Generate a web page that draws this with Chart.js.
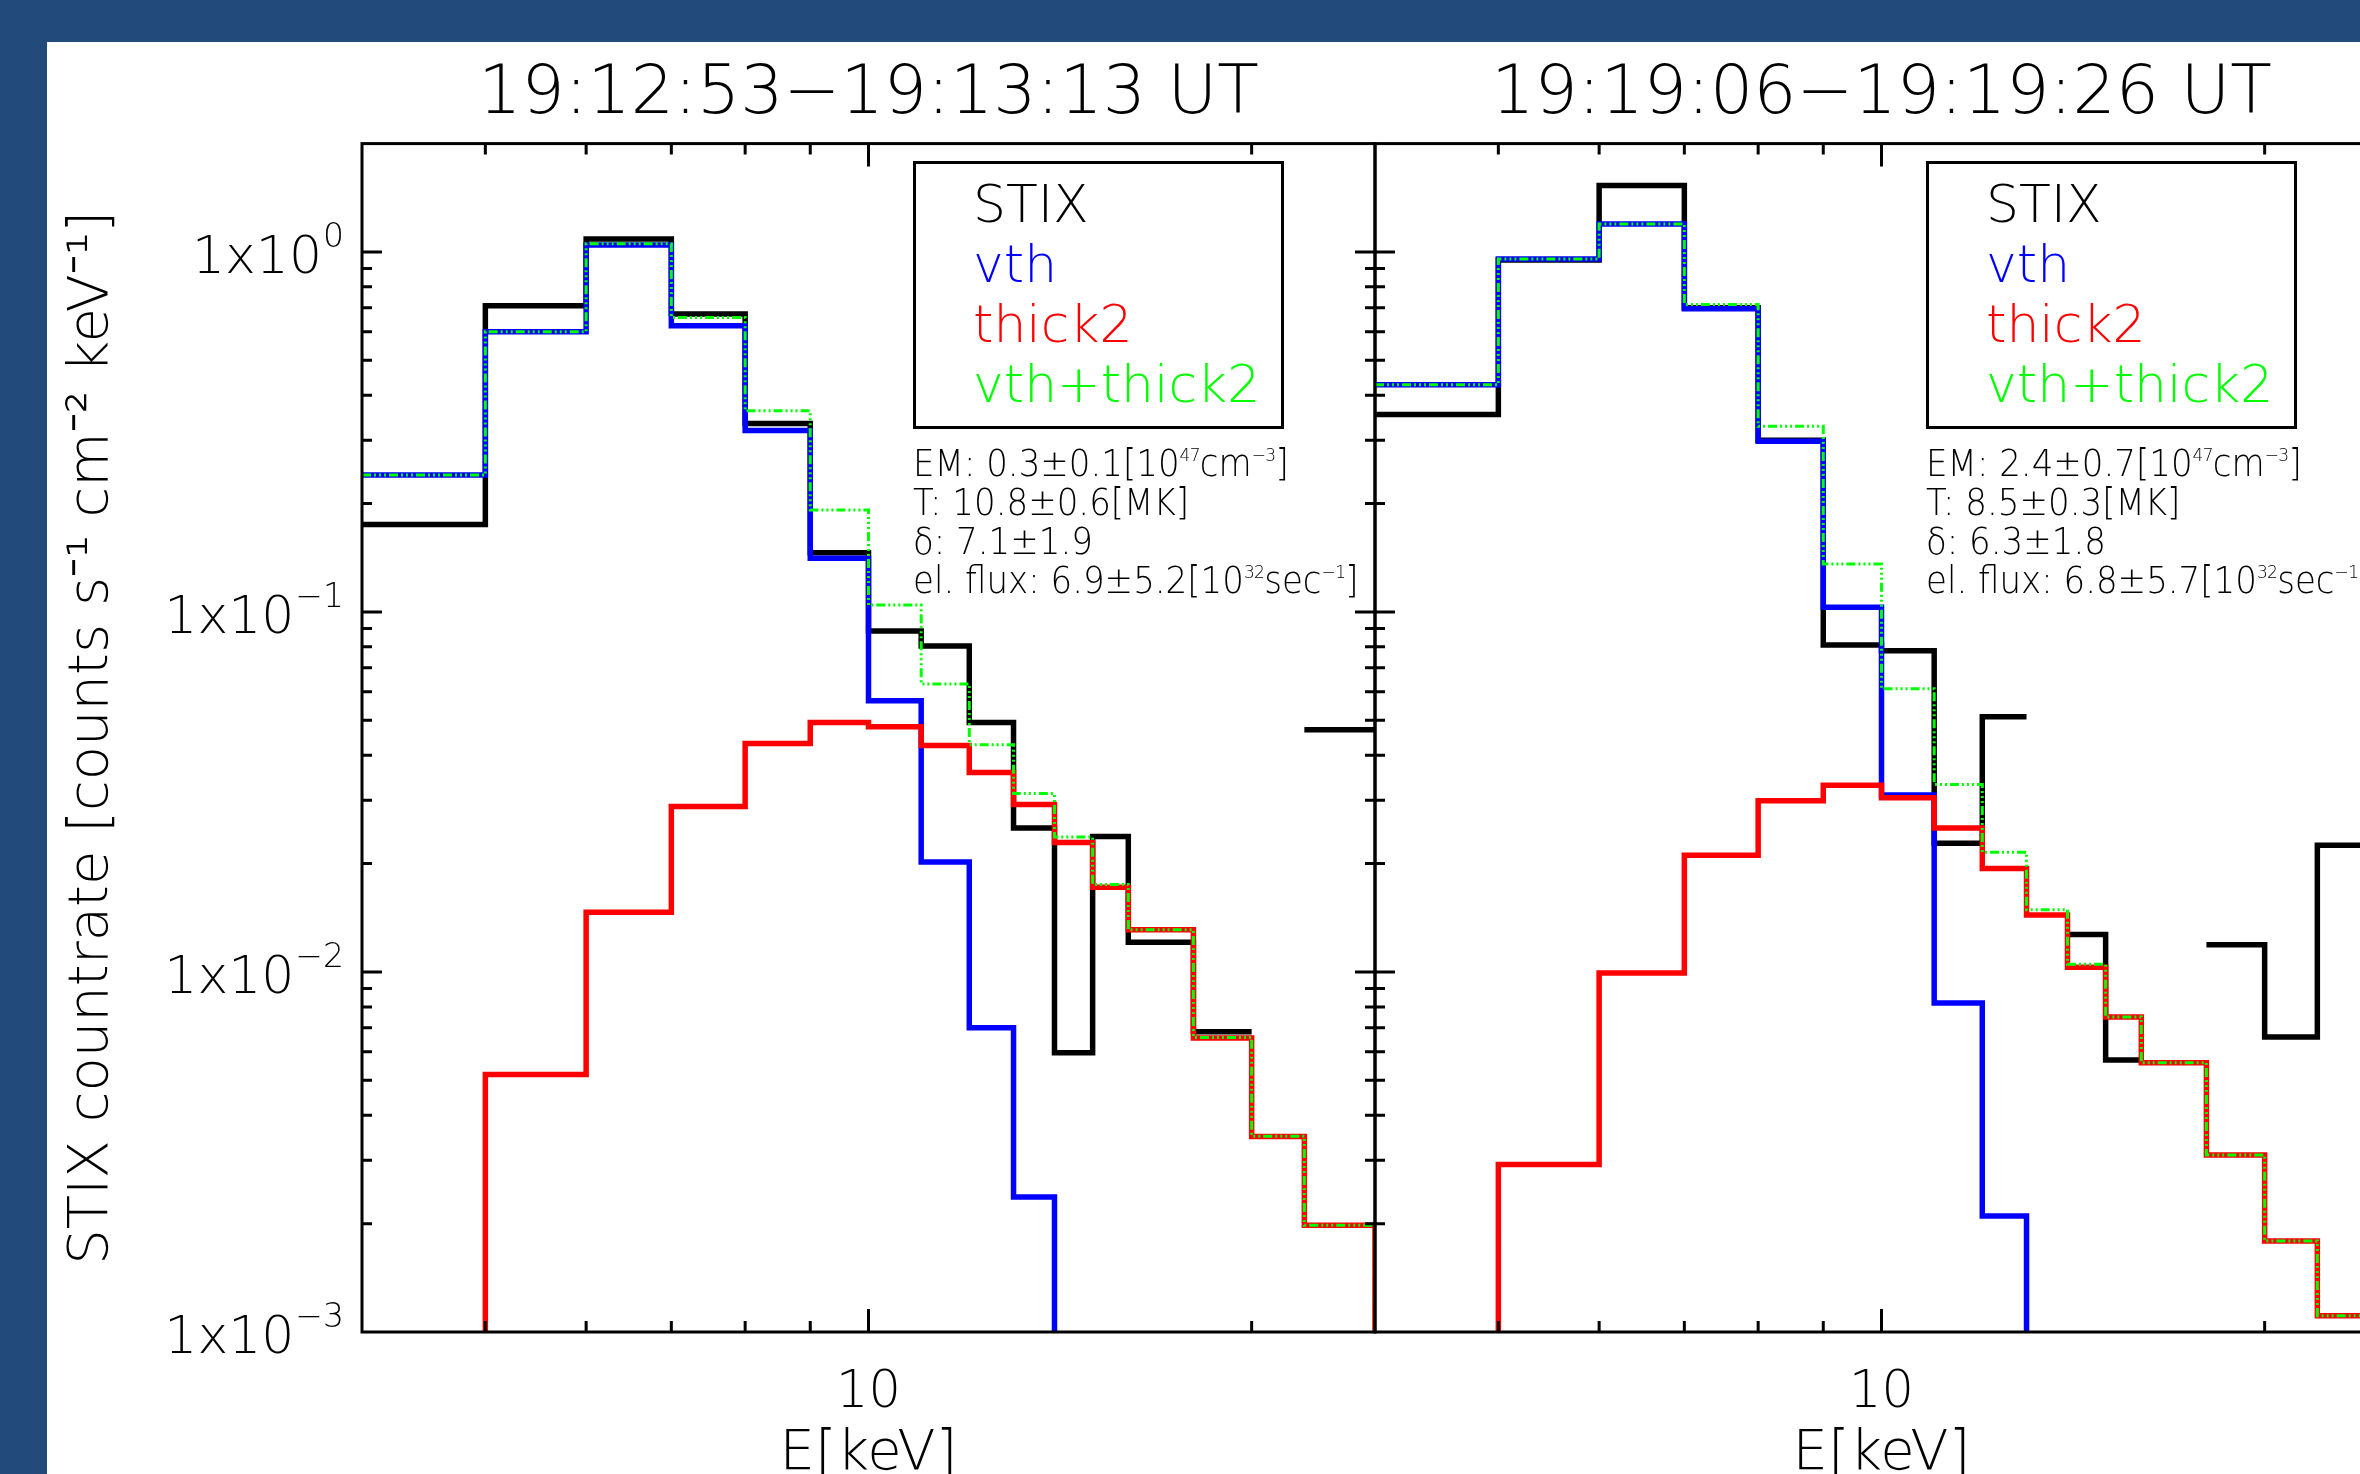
<!DOCTYPE html>
<html>
<head>
<meta charset="utf-8">
<title>STIX count spectra</title>
<script src="https://cdn.jsdelivr.net/npm/chart.js@4.4.1/dist/chart.umd.min.js"></script>
<style>
  html, body { margin:0; padding:0; }
  body { width:2360px; height:1474px; overflow:hidden; position:relative; background:#224a7a; font-family:'DejaVu Sans', sans-serif; font-weight:200; color:#000; }
  #paper { position:absolute; left:47px; top:42px; width:2313px; height:1432px; background:#ffffff; }
  canvas { position:absolute; top:0; }
  #c1 { left:0; }
  #c2 { left:1345px; }
  .lgbox { position:absolute; top:161px; width:371px; height:268px; border:3px solid #000; box-sizing:border-box; }
  .lgtext { position:absolute; top:174px; font-size:52px; line-height:60px; white-space:nowrap; }
  .params { position:absolute; top:444px; font-size:37px; line-height:39px; white-space:nowrap; transform:scaleX(0.92); transform-origin:0 0; }
  .params sup { font-size:0.5em; vertical-align:0.8em; line-height:0; letter-spacing:-0.04em; }
</style>
</head>
<body>
<div id="paper"></div>
<canvas id="c1" width="1400" height="1520"></canvas>
<canvas id="c2" width="1068" height="1520"></canvas>
<div id="overlay"></div>
<script>
// ---------------- data ----------------
const energyEdges = [4, 5, 6, 7, 8, 9, 10, 11, 12, 13, 14, 15, 16, 18, 20, 22, 25, 28]; // keV bin edges

const panelTitles = ['19:12:53\u221219:13:13 UT', '19:19:06\u221219:19:26 UT'];
const seriesNames = ['STIX', 'vth', 'thick2', 'vth+thick2'];

// Panel 1 : 19:12:53-19:13:13 UT   (counts s^-1 cm^-2 keV^-1 per bin; null = not plotted)
const stixA  = [0.175, 0.709, 1.086, 0.673, 0.334, 0.146, 0.0886, 0.0805, 0.0493, 0.0251, 0.00597, 0.0238, 0.0121, 0.00682, null, 0.0471, null];
const vthA   = [0.240, 0.600, 1.046, 0.624, 0.319, 0.141, 0.0567, 0.0202, 0.0070, 0.00237, 0.0007, 0.0002, 0.00006, 0.000015, 0.000003, 0.0000006, 0.0000001];
const thickA = [0.0004, 0.00519, 0.01466, 0.0288, 0.0431, 0.0493, 0.0480, 0.0426, 0.0358, 0.0292, 0.0229, 0.0172, 0.0131, 0.00656, 0.00349, 0.00198, 0.0001];
const sumA   = [0.240, 0.600, 1.054, 0.658, 0.362, 0.192, 0.1045, 0.0631, 0.0428, 0.0313, 0.0237, 0.0175, 0.0131, 0.00658, 0.0035, 0.00198, 0.0001];

// Panel 2 : 19:19:06-19:19:26 UT
const stixB  = [0.3535, 0.95, 1.53, 0.70, 0.30, 0.081, 0.078, 0.0228, 0.0512, null, 0.0127, 0.0057, null, 0.0119, 0.0066, 0.0225, null];
const vthB   = [0.428, 0.956, 1.196, 0.695, 0.298, 0.103, 0.031, 0.0082, 0.0021, 0.0006, 0.00015, 0.00004, 0.00001, 0.000002, 0.0000004, 0.0000001, 0.00000002];
const thickB = [0.0005, 0.00292, 0.00993, 0.0211, 0.0299, 0.0330, 0.0305, 0.0251, 0.0194, 0.0144, 0.0103, 0.0075, 0.0056, 0.0031, 0.00179, 0.00111, 0.0001];
const sumB   = [0.428, 0.956, 1.196, 0.715, 0.328, 0.136, 0.0612, 0.0332, 0.0215, 0.0149, 0.0105, 0.0075, 0.0056, 0.0031, 0.00179, 0.00111, 0.0001];

// axis ticks
const xTickValues = [10];
const xTickLabels = ['10'];
const yTickValues = [0.001, 0.01, 0.1, 1];
const yTickBase = ['1x10', '1x10', '1x10', '1x10'];
const yTickExp = ['\u22123', '\u22122', '\u22121', '0'];

// fit parameter text
const paramsA = ['EM: 0.3\u00B10.1[10<sup>47</sup>cm<sup>\u22123</sup>]', 'T: 10.8\u00B10.6[MK]', '\u03B4: 7.1\u00B11.9', 'el. flux: 6.9\u00B15.2[10<sup>32</sup>sec<sup>\u22121</sup>]'];
const paramsB = ['EM: 2.4\u00B10.7[10<sup>47</sup>cm<sup>\u22123</sup>]', 'T: 8.5\u00B10.3[MK]', '\u03B4: 6.3\u00B11.8', 'el. flux: 6.8\u00B15.7[10<sup>32</sup>sec<sup>\u22121</sup>]'];

// ---------------- styling ----------------
const FONT = "'DejaVu Sans', sans-serif";
const FW = '200';
const seriesColors = ['#000000', '#0000ff', '#ff0000', '#00ff00'];
const seriesWidths = [5.5, 5.5, 5.5, 3];
const seriesDash = [[], [], [], [9, 3, 2, 3, 2, 3, 2, 3]];

Chart.defaults.animation = false;
Chart.defaults.font.family = FONT;
Chart.defaults.color = '#000';

function histPoints(edges, vals) {
  const pts = [];
  for (let i = 0; i < vals.length; i++) {
    pts.push({ x: edges[i], y: vals[i] });
    pts.push({ x: edges[i + 1], y: vals[i] });
  }
  return pts;
}

// frame, inward major/minor ticks and y tick labels with raised exponents
const frameTicks = {
  id: 'frameTicks',
  afterDatasetsDraw(chart, args, opts) {
    const { ctx, chartArea: a, scales: { x, y } } = chart;
    ctx.save();
    ctx.strokeStyle = '#000';
    ctx.lineWidth = 3;
    ctx.lineCap = 'butt';
    ctx.strokeRect(a.left, a.top, a.right - a.left, a.bottom - a.top);
    ctx.beginPath();
    for (let e = -4; e <= 2; e++) {
      for (let m = 1; m < 10; m++) {
        const v = m * Math.pow(10, e);
        if (v > x.min * 1.0001 && v < x.max * 0.9999) {
          const px = x.getPixelForValue(v);
          const L = m === 1 ? 23 : 11;
          ctx.moveTo(px, a.bottom); ctx.lineTo(px, a.bottom - L);
          ctx.moveTo(px, a.top); ctx.lineTo(px, a.top + L);
        }
        if (v > y.min * 1.0001 && v < y.max * 0.9999) {
          const py = y.getPixelForValue(v);
          const L = m === 1 ? 20 : 10;
          ctx.moveTo(a.left, py); ctx.lineTo(a.left + L, py);
          ctx.moveTo(a.right, py); ctx.lineTo(a.right - L, py);
        }
      }
    }
    ctx.stroke();
    if (opts.yLabels) {
      ctx.fillStyle = '#000';
      ctx.textBaseline = 'alphabetic';
      ctx.textAlign = 'left';
      yTickValues.forEach((v, i) => {
        const py = y.getPixelForValue(v);
        ctx.font = FW + ' 52px ' + FONT;
        const wb = ctx.measureText(yTickBase[i]).width;
        ctx.font = FW + ' 33px ' + FONT;
        const ws = ctx.measureText(yTickExp[i]).width;
        const x0 = a.left - 18 - ws - wb - 1;
        ctx.font = FW + ' 52px ' + FONT;
        ctx.fillText(yTickBase[i], x0, py + 21);
        ctx.font = FW + ' 33px ' + FONT;
        ctx.fillText(yTickExp[i], x0 + wb + 1, py - 5);
      });
    }
    ctx.restore();
  }
};

function makeChart(canvasId, title, series, showY, padLeft, yWidth) {
  const datasets = series.map((vals, i) => ({
    label: seriesNames[i],
    data: histPoints(energyEdges, vals),
    borderColor: seriesColors[i],
    borderWidth: seriesWidths[i],
    borderDash: seriesDash[i],
    borderJoinStyle: 'miter',
    borderCapStyle: 'butt',
    pointRadius: 0,
    tension: 0,
    fill: false,
    spanGaps: false,
    order: 4 - i
  }));
  return new Chart(document.getElementById(canvasId), {
    type: 'line',
    data: { datasets },
    plugins: [frameTicks],
    options: {
      responsive: false,
      maintainAspectRatio: false,
      devicePixelRatio: 1,
      animation: false,
      layout: { padding: { left: padLeft, right: 25, top: 0, bottom: 0 } },
      plugins: {
        legend: { display: false },
        tooltip: { enabled: false },
        frameTicks: { yLabels: showY },
        title: {
          display: true, text: title, fullSize: false, color: '#000',
          font: { family: FONT, size: 68, weight: FW },
          padding: { top: 55, bottom: 7 }
        }
      },
      scales: {
        x: {
          type: 'logarithmic', position: 'bottom', min: 4, max: 25,
          afterBuildTicks: s => { s.ticks = xTickValues.map(v => ({ value: v })); },
          afterFit: s => { s.height = 188; },
          ticks: {
            callback: v => xTickLabels[xTickValues.indexOf(v)] ?? '',
            font: { family: FONT, size: 51, weight: FW }, color: '#000', padding: 31,
            maxRotation: 0, minRotation: 0, autoSkip: false
          },
          grid: { display: false, drawTicks: false },
          border: { display: false },
          title: { display: true, text: 'E[keV]', color: '#000', font: { family: FONT, size: 56, weight: FW }, padding: { top: 0, bottom: 32 } }
        },
        y: {
          type: 'logarithmic', position: 'left', min: 0.001, max: 2,
          afterBuildTicks: s => { s.ticks = yTickValues.map(v => ({ value: v })); },
          afterFit: s => { s.width = yWidth; },
          ticks: { display: false },
          grid: { display: false, drawTicks: false },
          border: { display: false },
          title: {
            display: showY, text: 'STIX countrate [counts s\u207B\u00B9 cm\u207B\u00B2 keV\u207B\u00B9]',
            color: '#000', font: { family: FONT, size: 56, weight: FW }, padding: { top: 12, bottom: 0 }
          }
        }
      }
    }
  });
}

makeChart('c1', panelTitles[0], [stixA, vthA, thickA, sumA], true, 47, 315);
makeChart('c2', panelTitles[1], [stixB, vthB, thickB, sumB], false, 0, 30);

// legend boxes and fit parameters
const overlay = document.getElementById('overlay');
function addPanelText(boxLeft, params) {
  const box = document.createElement('div');
  box.className = 'lgbox';
  box.style.left = boxLeft + 'px';
  overlay.appendChild(box);
  const lg = document.createElement('div');
  lg.className = 'lgtext';
  lg.style.left = (boxLeft + 60) + 'px';
  seriesNames.forEach((n, i) => {
    const d = document.createElement('div');
    d.textContent = n;
    d.style.color = seriesColors[i];
    lg.appendChild(d);
  });
  overlay.appendChild(lg);
  const p = document.createElement('div');
  p.className = 'params';
  p.style.left = boxLeft + 'px';
  p.innerHTML = params.map(s => '<div>' + s + '</div>').join('');
  overlay.appendChild(p);
}
addPanelText(913, paramsA);
addPanelText(1926, paramsB);
</script>
</body>
</html>
